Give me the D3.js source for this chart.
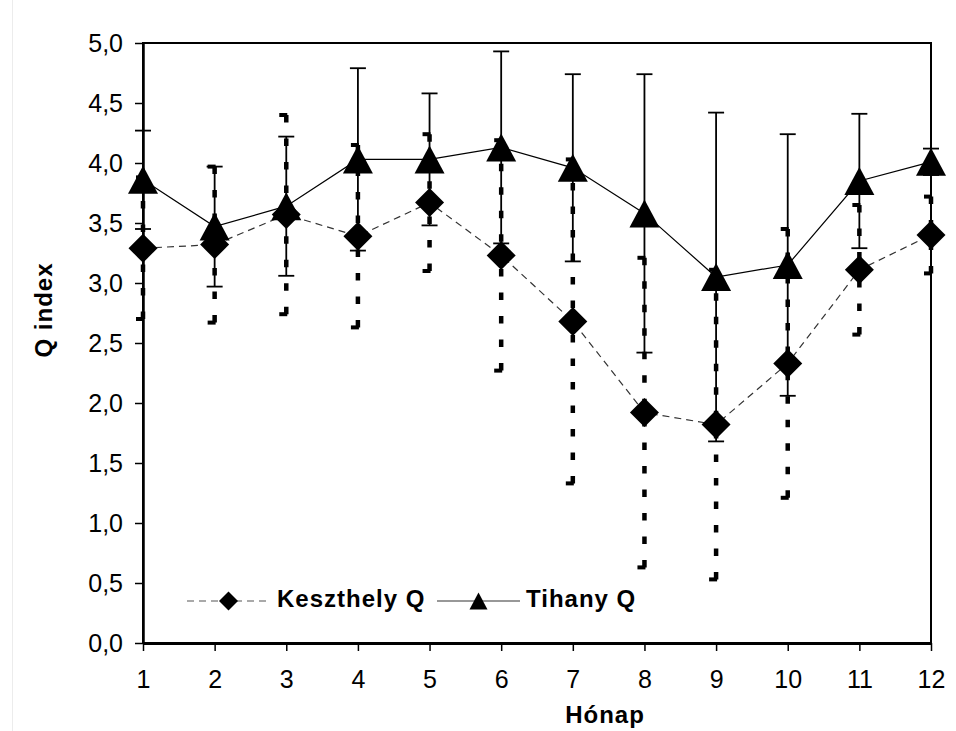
<!DOCTYPE html>
<html lang="hu">
<head>
  <meta charset="UTF-8">
  <script src="https://cdn.jsdelivr.net/npm/d3@7/dist/d3.min.js"></script>
  <title>Q index</title>
  <style>
    body { margin: 0; background: #fff; }
    svg { display: block; font-family: "Liberation Sans", Arial, sans-serif; }
  </style>
</head>
<body>
  <script>
    // months + monthly means and error bar half-widths
    const months = [1, 2, 3, 4, 5, 6, 7, 8, 9, 10, 11, 12];
    const keszthelyQ = [3.29, 3.32, 3.57, 3.39, 3.67, 3.23, 2.68, 1.92, 1.82, 2.33, 3.11, 3.40];
    const keszthelyErr = [0.59, 0.65, 0.83, 0.76, 0.57, 0.96, 1.35, 1.29, 1.29, 1.12, 0.54, 0.32];
    const tihanyQ = [3.86, 3.47, 3.64, 4.03, 4.03, 4.13, 3.96, 3.58, 3.05, 3.15, 3.85, 4.01];
    const tihanyErr = [0.41, 0.50, 0.58, 0.76, 0.55, 0.80, 0.78, 1.16, 1.37, 1.09, 0.56, 0.11];
    const yTicks = [0, 0.5, 1, 1.5, 2, 2.5, 3, 3.5, 4, 4.5, 5];
    const seriesNames = ["Keszthely Q", "Tihany Q"];

    const width = 956;
    const height = 731;

    const x = d3.scaleLinear().domain([1, 12]).range([143, 931]);
    const y = d3.scaleLinear().domain([0, 5]).range([643, 43]);

    const svg = d3.select("body").append("svg")
      .attr("width", width)
      .attr("height", height);

    // faint outer chart border on the left
    svg.append("line")
      .attr("x1", 12.5).attr("x2", 12.5)
      .attr("y1", 0).attr("y2", height)
      .style("stroke", "#ececec");

    // plot area frame
    svg.append("rect")
      .attr("x", x(1)).attr("y", y(5))
      .attr("width", x(12) - x(1)).attr("height", y(0) - y(5))
      .style("fill", "none").style("stroke", "#000").style("stroke-width", 2);

    const fmt = d => d3.format(".1f")(d).replace(".", ",");

    const yAxis = svg.append("g")
      .attr("transform", `translate(${x(1)},0)`)
      .call(d3.axisLeft(y).tickValues(yTicks).tickFormat(fmt)
        .tickSize(8).tickSizeOuter(0).tickPadding(12));
    const xAxis = svg.append("g")
      .attr("transform", `translate(0,${y(0)})`)
      .call(d3.axisBottom(x).tickValues(months)
        .tickSize(8).tickSizeOuter(0).tickPadding(19));

    [yAxis, xAxis].forEach(g => {
      g.attr("font-family", null).attr("font-size", null);
      g.selectAll("text").style("font-size", "25px").style("fill", "#000");
      g.selectAll(".tick line").style("stroke", "#000").style("stroke-width", 1.5);
    });
    yAxis.select(".domain").style("stroke-width", 2.5);
    xAxis.select(".domain").style("stroke-width", 3);

    // axis titles
    svg.append("text")
      .attr("x", 605).attr("y", 723)
      .attr("text-anchor", "middle")
      .style("font-size", "24px").style("font-weight", "bold")
      .style("letter-spacing", "1px")
      .text("Hónap");
    svg.append("text")
      .attr("transform", `translate(52,310) rotate(-90)`)
      .attr("text-anchor", "middle")
      .style("font-size", "24px").style("font-weight", "bold")
      .style("letter-spacing", "1px")
      .text("Q index");

    const kData = months.map((m, i) => ({ m, v: keszthelyQ[i], e: keszthelyErr[i] }));
    const tData = months.map((m, i) => ({ m, v: tihanyQ[i], e: tihanyErr[i] }));

    const line = d3.line().x(d => x(d.m)).y(d => y(d.v));

    // series lines
    svg.append("path").datum(kData)
      .attr("d", line)
      .style("fill", "none").style("stroke", "#333").style("stroke-width", 1.2)
      .style("stroke-dasharray", "7,5");
    svg.append("path").datum(tData)
      .attr("d", line)
      .style("fill", "none").style("stroke", "#000").style("stroke-width", 1.2);

    // Tihany error bars: thin solid with caps
    const tErr = svg.append("g").selectAll("g").data(tData).join("g");
    tErr.append("line")
      .attr("x1", d => x(d.m)).attr("x2", d => x(d.m))
      .attr("y1", d => y(d.v + d.e)).attr("y2", d => y(d.v - d.e))
      .style("stroke", "#000").style("stroke-width", 1.8);
    tErr.selectAll("line.cap").data(d => [d.v + d.e, d.v - d.e].map(v => ({ m: d.m, v })))
      .join("line").attr("class", "cap")
      .attr("x1", d => x(d.m) - 8).attr("x2", d => x(d.m) + 8)
      .attr("y1", d => y(d.v)).attr("y2", d => y(d.v))
      .style("stroke", "#000").style("stroke-width", 1.8);

    // Keszthely error bars: thick dashed, drawn from the ends towards the mean
    const kErr = svg.append("g").selectAll("g").data(kData).join("g");
    kErr.selectAll("line.bar").data(d => [d.v + d.e, d.v - d.e].map(end => ({ m: d.m, v: d.v, end })))
      .join("line").attr("class", "bar")
      .attr("x1", d => x(d.m)).attr("x2", d => x(d.m))
      .attr("y1", d => y(d.end)).attr("y2", d => y(d.v))
      .style("stroke", "#000").style("stroke-width", 4.5)
      .style("stroke-dasharray", "7.5,16");
    kErr.selectAll("line.cap").data(d => [d.v + d.e, d.v - d.e].map(v => ({ m: d.m, v })))
      .join("line").attr("class", "cap")
      .attr("x1", d => x(d.m) - 7).attr("x2", d => x(d.m) + 8)
      .attr("y1", d => y(d.v)).attr("y2", d => y(d.v))
      .style("stroke", "#000").style("stroke-width", 4)
      .style("stroke-dasharray", "8,16");

    // markers
    const diamond = r => `M0,${-r}L${r},0L0,${r}L${-r},0Z`;
    const triangle = (w, h) => `M0,${-h / 2}L${w / 2},${h / 2}L${-w / 2},${h / 2}Z`;

    svg.append("g").selectAll("path").data(kData).join("path")
      .attr("d", diamond(14.5))
      .attr("transform", d => `translate(${x(d.m)},${y(d.v)})`)
      .style("fill", "#000");
    svg.append("g").selectAll("path").data(tData).join("path")
      .attr("d", triangle(30, 28))
      .attr("transform", d => `translate(${x(d.m)},${y(d.v)})`)
      .style("fill", "#000");

    // legend
    const legend = svg.append("g");
    const legendItems = [
      { name: seriesNames[0], x0: 187, x1: 270, dash: "7,5", stroke: "#555", mark: diamond(9.5), tx: 277 },
      { name: seriesNames[1], x0: 437, x1: 520, dash: null, stroke: "#333", mark: triangle(18, 17), tx: 526 }
    ];
    const li = legend.selectAll("g").data(legendItems).join("g");
    li.append("line")
      .attr("x1", d => d.x0).attr("x2", d => d.x1)
      .attr("y1", 601).attr("y2", 601)
      .style("stroke", d => d.stroke).style("stroke-width", 1.2)
      .style("stroke-dasharray", d => d.dash);
    li.append("path")
      .attr("d", d => d.mark)
      .attr("transform", d => `translate(${(d.x0 + d.x1) / 2},601)`)
      .style("fill", "#000");
    li.append("text")
      .attr("x", d => d.tx).attr("y", 607)
      .style("font-size", "24px").style("font-weight", "bold")
      .style("letter-spacing", "1px")
      .text(d => d.name);
  </script>
</body>
</html>
